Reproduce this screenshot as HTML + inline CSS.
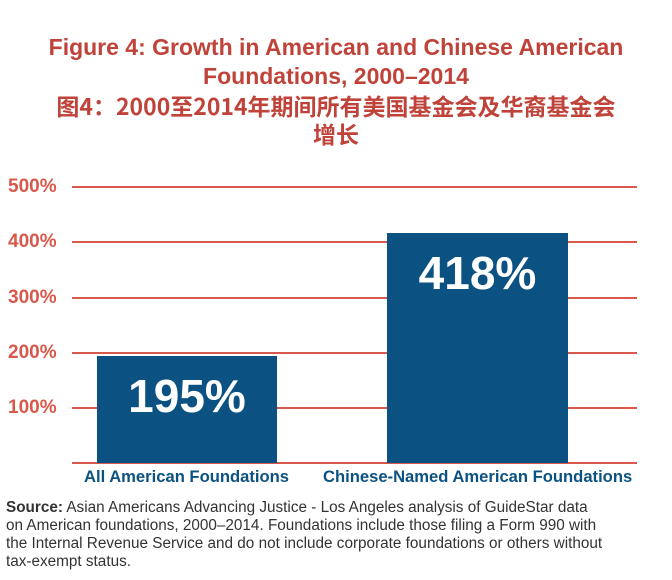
<!DOCTYPE html>
<html><head><meta charset="utf-8"><style>
body{margin:0;width:672px;height:580px;background:#fff;position:relative;overflow:hidden;font-family:"Liberation Sans","Noto Sans CJK SC",sans-serif}
.t{position:absolute;left:0;width:672px;text-align:center;color:#c0392b}
.g{position:absolute;left:72px;width:565px;height:2px;background:#d9584c}
.y{position:absolute;left:8px;width:62px;color:#d9584c;font-weight:bold;font-size:19px}
.bar{position:absolute;background:#0b5282;color:#fff;font-weight:bold;text-align:center}
.x{position:absolute;top:467px;color:#0b5282;font-weight:bold;font-size:16.6px}
</style></head><body>
<div class="t" style="top:33px;font-size:23px;line-height:29px;font-weight:bold;color:#c0433a">Figure 4: Growth in American and Chinese American<br>Foundations, 2000–2014</div>
<div class="t" style="top:91px;font-size:23px;line-height:28px;font-weight:bold;color:#c0433a;font-family:'Noto Sans CJK SC',sans-serif">图4：2000至2014年期间所有美国基金会及华裔基金会<br>增长</div>
<div class="g" style="top:186px"></div>
<div class="g" style="top:241px"></div>
<div class="g" style="top:297px"></div>
<div class="g" style="top:352px"></div>
<div class="g" style="top:407px"></div>
<div class="g" style="top:462px"></div>
<div class="y" style="top:176px">500%</div>
<div class="y" style="top:231px">400%</div>
<div class="y" style="top:287px">300%</div>
<div class="y" style="top:342px">200%</div>
<div class="y" style="top:397px">100%</div>
<div class="bar" style="left:97px;top:356px;width:180px;height:107px;font-size:46px;line-height:80px">195%</div>
<div class="bar" style="left:387px;top:233px;width:181px;height:230px;font-size:46px;line-height:80px">418%</div>
<div class="x" style="left:84px">All American Foundations</div>
<div class="x" style="left:323px">Chinese-Named American Foundations</div>
<div style="position:absolute;left:6px;top:499px;width:660px;font-size:15.3px;line-height:18px;color:#333">
<b>Source:</b> Asian Americans Advancing Justice - Los Angeles analysis of GuideStar data<br>on American foundations, 2000–2014. Foundations include those filing a Form 990 with<br>the Internal Revenue Service and do not include corporate foundations or others without<br>tax-exempt status.</div>
</body></html>
